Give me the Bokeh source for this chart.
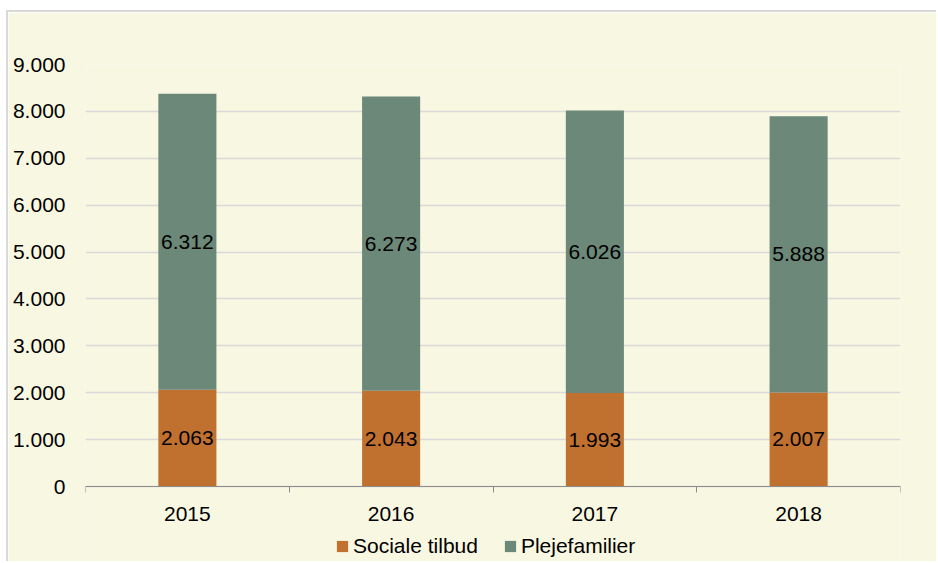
from bokeh.plotting import figure
from bokeh.models import FixedTicker, ColumnDataSource, Legend, LegendItem, LabelSet
from bokeh.core.properties import value
from bokeh.embed import file_html
from bokeh.resources import INLINE

years = ["2015", "2016", "2017", "2018"]
sociale = [2063, 2043, 1993, 2007]
pleje = [6312, 6273, 6026, 5888]
yticks = [0, 1000, 2000, 3000, 4000, 5000, 6000, 7000, 8000, 9000]

BG = "#F8F7E1"
ORANGE = "#C0702F"
GREEN = "#6B8878"
FONT = "Liberation Sans"

# layout (pixels)
W, H = 930, 551
TOP, LEFT, RIGHT = 52, 77, 38
AXIS_PX = 422          # pixels from frame top to the y=0 line
YMAX = 9000
frame_h = H - TOP
ystart = -YMAX * (frame_h - AXIS_PX) / AXIS_PX


def fmt(v):
    return f"{v:,}".replace(",", ".")


xs = list(range(1, len(years) + 1))
src = ColumnDataSource(dict(
    x=xs,
    s=sociale,
    top=[a + b for a, b in zip(sociale, pleje)],
    s_mid=[a / 2 for a in sociale],
    p_mid=[a + b / 2 for a, b in zip(sociale, pleje)],
    s_lbl=[fmt(v) for v in sociale],
    p_lbl=[fmt(v) for v in pleje],
))

p = figure(width=W, height=H, x_range=(0.5, len(years) + 0.5), y_range=(ystart, YMAX),
           output_backend="svg", toolbar_location=None,
           background_fill_color=BG, border_fill_color=BG,
           min_border_left=LEFT, min_border_right=RIGHT, min_border_top=TOP, min_border_bottom=0)
p.styles = {"margin-left": "6px", "margin-top": "10px",
            "border-left": "2px solid #D9D9D9", "border-top": "2px solid #D9D9D9"}
p.outline_line_color = None

r1 = p.vbar(x="x", width=0.285, bottom=0, top="s", source=src, fill_color=ORANGE, line_color=None)
r2 = p.vbar(x="x", width=0.285, bottom="s", top="top", source=src, fill_color=GREEN, line_color=None)

for ycol, tcol in (("s_mid", "s_lbl"), ("p_mid", "p_lbl")):
    p.add_layout(LabelSet(x="x", y=ycol, text=tcol, source=src, text_align="center",
                          text_baseline="middle", text_font=value(FONT), text_font_size="21px",
                          text_color="#000000"))

p.xgrid.visible = False
p.ygrid.grid_line_color = "#D9D9D9"
p.ygrid.grid_line_width = 1.5
p.ygrid.ticker = FixedTicker(ticks=yticks)

p.yaxis.ticker = FixedTicker(ticks=yticks)
p.yaxis.major_label_overrides = {t: fmt(t) for t in yticks}
p.yaxis.axis_line_color = None
p.yaxis.major_tick_line_color = None
p.yaxis.minor_tick_line_color = None
p.yaxis.major_tick_out = 0
p.yaxis.major_label_standoff = 20
p.yaxis.major_label_text_font = FONT
p.yaxis.major_label_text_font_size = "21px"
p.yaxis.major_label_text_color = "#000000"

p.xaxis.fixed_location = 0
p.xaxis.ticker = FixedTicker(ticks=xs, minor_ticks=[x - 0.5 for x in xs] + [xs[-1] + 0.5])
p.xaxis.major_label_overrides = {x: y for x, y in zip(xs, years)}
p.xaxis.axis_line_color = "#8C8C8C"
p.xaxis.axis_line_width = 1
p.xaxis.major_tick_line_color = None
p.xaxis.major_tick_out = 0
p.xaxis.major_tick_in = 0
p.xaxis.minor_tick_line_color = "#8C8C8C"
p.xaxis.minor_tick_out = 6
p.xaxis.minor_tick_in = 0
p.xaxis.major_label_standoff = 14
p.xaxis.major_label_text_font = FONT
p.xaxis.major_label_text_font_size = "21px"
p.xaxis.major_label_text_color = "#000000"

legend = Legend(items=[LegendItem(label="Sociale tilbud", renderers=[r1]),
                       LegendItem(label="Plejefamilier", renderers=[r2])],
                orientation="horizontal", location=(250, 5),
                glyph_width=14, glyph_height=14, label_text_font=FONT, label_text_font_size="21px",
                label_text_color="#000000", border_line_color=None, background_fill_alpha=0,
                padding=0, margin=0, spacing=25, label_standoff=4)
p.add_layout(legend, "center")

open("out.html", "w").write(file_html(p, INLINE))
